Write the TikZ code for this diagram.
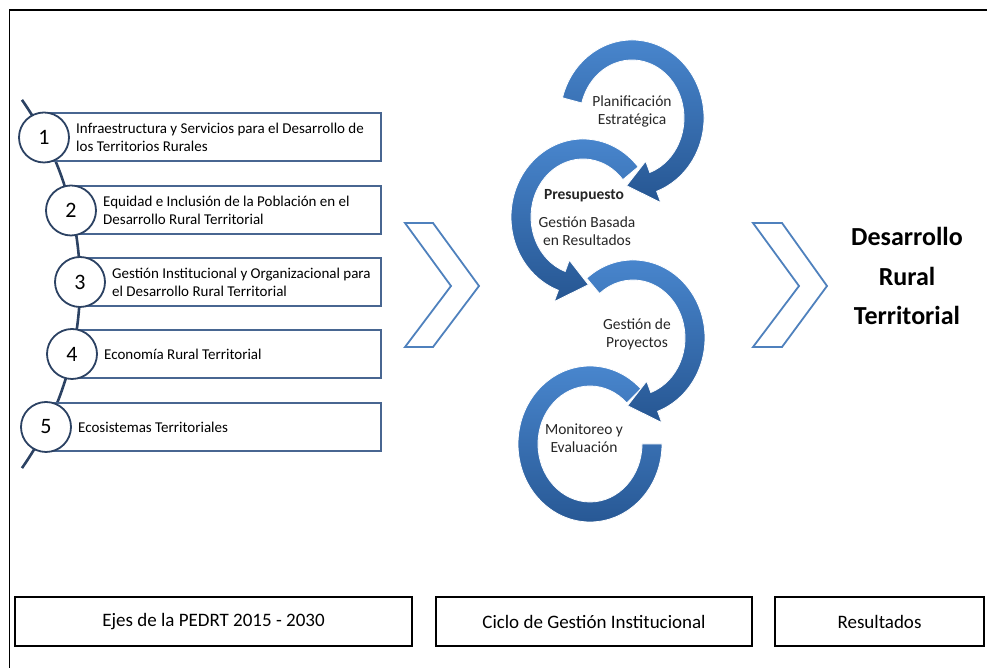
\documentclass[tikz,border=0pt]{standalone}
\usepackage{fontspec}
\setmainfont{Carlito}
\definecolor{spineblue}{RGB}{44,66,99}
\definecolor{boxblue}{RGB}{72,102,145}
\definecolor{ringlight}{RGB}{74,136,208}
\definecolor{ringdark}{RGB}{38,86,146}
\definecolor{chevblue}{RGB}{79,129,189}
\tikzset{
  spine/.style = {draw=spineblue, line width=2.6pt},
  axisbox/.style = {draw=boxblue, line width=2pt, fill=white, anchor=west, minimum height=48pt, inner sep=0pt},
  axisnum/.style = {circle, draw=spineblue, line width=1.8pt, fill=white, minimum size=50pt, inner sep=0pt, font=\fontsize{22}{26}\selectfont},
  axistext/.style = {anchor=west, align=left, inner sep=0pt, font=\fontsize{15}{18}\selectfont},
  ringarrow/.style = {top color=ringlight, bottom color=ringdark, draw=white, line width=0.8pt},
  ringtext/.style = {align=center, inner sep=0pt, text=black!85, font=\fontsize{15.5}{18}\selectfont},
  chevron/.style = {draw=chevblue, line width=1.8pt, line join=miter},
  footbox/.style = {draw=black, line width=1.6pt, minimum height=49pt, inner sep=0pt, font=\fontsize{19}{22}\selectfont}
}
% center x, center y, start angle, end angle, tip angle
\newcommand\cyclearrow[5]{%
  \path[ringarrow, shift={(#1,#2)}] (#3:72 and 78)
    arc[start angle=#3, end angle=#4, x radius=72, y radius=78]
    -- (#4:84 and 90) -- (#5:62 and 68) -- (#4:40 and 46) -- (#4:52 and 58)
    arc[start angle=#4, end angle=#3, x radius=52, y radius=58] -- cycle;}
\begin{document}
\begin{tikzpicture}[x=1pt, y=1pt]
  \useasboundingbox (0,0) rectangle (987,668);
  \draw [line width=1.6pt] (9.5,0) -- (9.5,658) -- (987,658);

  % ejes
  \draw [spine] (-241,384) ++(35:321) arc [start angle=35, end angle=-35, radius=321];
  \node [axisbox, minimum width=336pt] (b1) at (44,530.5) {};
  \node [axisbox, minimum width=309pt] (b2) at (71,457.5) {};
  \node [axisbox, minimum width=300pt] (b3) at (80,386) {};
  \node [axisbox, minimum width=308pt] (b4) at (72,314) {};
  \node [axisbox, minimum width=334pt] (b5) at (46,241) {};
  \node [axisnum] (n1) at (b1.west) {1};
  \node [axisnum] (n2) at (b2.west) {2};
  \node [axisnum] (n3) at (b3.west) {3};
  \node [axisnum] (n4) at (b4.west) {4};
  \node [axisnum] (n5) at (b5.west) {5};
  \node [axistext] (t1) at ([xshift=32pt]n1.center) {Infraestructura y Servicios para el Desarrollo de\\los Territorios Rurales};
  \node [axistext] (t2) at ([xshift=32pt]n2.center) {Equidad e Inclusión de la Población en el\\Desarrollo Rural Territorial};
  \node [axistext] (t3) at ([xshift=32pt]n3.center) {Gestión Institucional y Organizacional para\\el Desarrollo Rural Territorial};
  \node [axistext] (t4) at ([xshift=32pt]n4.center) {Economía Rural Territorial};
  \node [axistext] (t5) at ([xshift=32pt]n5.center) {Ecosistemas Territoriales};

  % chevrons
  \draw [chevron] (405,445) -- (433,445) -- (479,382) -- (433,321) -- (405,321) -- (451,382) -- cycle;
  \draw [chevron] (753,445) -- (782,445) -- (827,382) -- (782,321) -- (753,321) -- (799,382) -- cycle;

  % ciclo
  \path [ringarrow, shift={(590,224)}] (45:72 and 78)
    arc [start angle=45, end angle=360, x radius=72, y radius=78]
    -- (0:52 and 58) arc [start angle=360, end angle=45, x radius=52, y radius=58] -- cycle;
  \cyclearrow{633}{330}{130}{-70}{-95}
  \cyclearrow{583}{451}{40}{250}{275}
  \cyclearrow{632}{550}{165}{-70}{-95}
  \node [ringtext] (plan) at (632,557) {Planificación\\Estratégica};
  \node [ringtext, font=\fontsize{15.5}{18}\selectfont\bfseries] (presu) at (584,472) {Presupuesto};
  \node [ringtext] (gbr) at (587,437) {Gestión Basada\\en Resultados};
  \node [ringtext] (proy) at (637,334) {Gestión de\\Proyectos};
  \node [ringtext] (moni) at (584,230) {Monitoreo y\\Evaluación};

  % resultado
  \node [align=center, font=\fontsize{26}{39.5}\selectfont\bfseries] (result) at (907,392) {Desarrollo\\Rural\\Territorial};

  \node [footbox, minimum width=397pt] (f1) at (213.5,46.5) {Ejes de la PEDRT 2015 - 2030};
  \node [footbox, minimum width=316pt] (f2) at (594,46.5) {Ciclo de Gestión Institucional};
  \node [footbox, minimum width=209pt] (f3) at (879.5,46.5) {Resultados};
\end{tikzpicture}
\end{document}
